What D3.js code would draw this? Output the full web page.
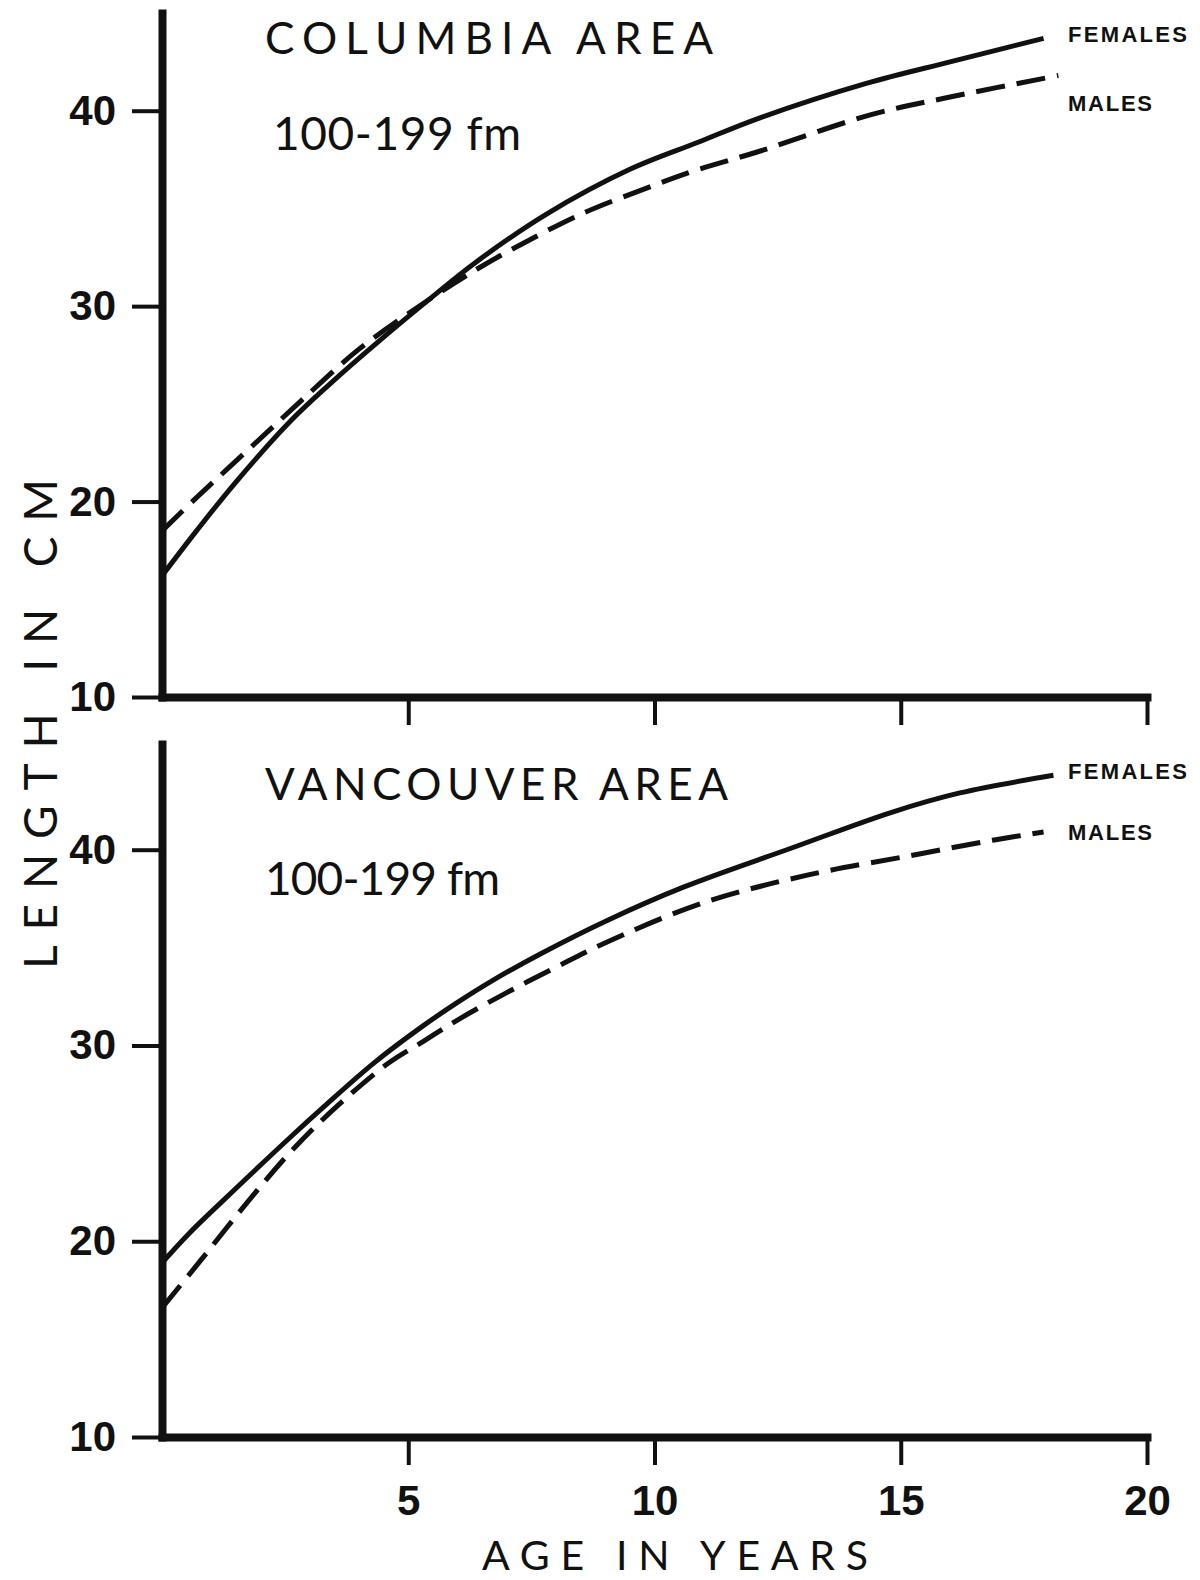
<!DOCTYPE html>
<html>
<head>
<meta charset="utf-8">
<script src="https://cdn.jsdelivr.net/npm/d3@7"></script>
<style>
  body { margin: 0; background: #fff; }
  .axis path, .axis line { stroke: #111; }
  .axis text { fill: #111; font-family: "Liberation Sans", Arial, sans-serif; font-weight: 700; }
  .title { font-family: Lato, "Open Sans", sans-serif; font-weight: 400; fill: #111; }
  .sex { font-family: "Liberation Sans", Arial, sans-serif; font-weight: 700; fill: #111; }
</style>
</head>
<body>
<script>
// growth curves, [age in years, length in cm]
var columbiaFemales = [[0,16.2],[0.7,18.5],[1.5,21.0],[2.6,24.1],[3.4,26.0],[4.4,28.2],[5.5,30.5],[6.4,32.3],[7.8,34.7],[9.5,37.0],[10.9,38.4],[12.1,39.6],[14.3,41.4],[16,42.5],[17.9,43.7]];
var columbiaMales   = [[0,18.5],[0.7,20.2],[1.9,23.0],[2.8,25.1],[4.0,27.8],[5.4,30.3],[6.4,31.9],[7.1,32.9],[8.5,34.7],[9.8,36.0],[10.9,37.0],[12.1,37.9],[14.4,39.8],[16,40.7],[18.2,41.8]];
var vancouverFemales = [[0,18.9],[0.55,20.4],[1.25,22.1],[2.6,25.3],[3.3,26.9],[4.3,29.1],[5.3,31.0],[6.0,32.2],[6.7,33.3],[7.7,34.7],[9.05,36.4],[10.6,38.1],[12.8,40.1],[14.8,41.9],[16.2,42.9],[18.1,43.8]];
var vancouverMales   = [[0,16.6],[0.65,18.6],[1.9,22.5],[2.7,24.8],[3.6,27.0],[4.6,29.1],[5.3,30.2],[6.0,31.3],[7.0,32.7],[8.0,34.0],[9.05,35.3],[11.0,37.3],[13.1,38.7],[15.2,39.7],[16.9,40.5],[17.9,40.9]];

var ageTicks = [5, 10, 15, 20];
var lengthTicks = [10, 20, 30, 40];
var areaNames = ["COLUMBIA AREA", "VANCOUVER AREA"];
var depthLabel = "100-199 fm";

var width = 1200,
    height = 1580;

var svg = d3.select("body").append("svg")
    .attr("width", width)
    .attr("height", height);

var x = d3.scaleLinear().domain([0, 20]).range([162, 1147]);

// one panel per area, both share the x scale
var panels = [
  { area: areaNames[0], females: columbiaFemales, males: columbiaMales,
    y: d3.scaleLinear().domain([10, 45]).range([697, 13]),
    titleY: 54, titleW: 448, depthX: 273, depthY: 150, depthW: 248,
    femDy: -4, malDy: 28, labels: false },
  { area: areaNames[1], females: vancouverFemales, males: vancouverMales,
    y: d3.scaleLinear().domain([10, 45.4]).range([1437, 744]),
    titleY: 800, titleW: 463, depthX: 265, depthY: 895, depthW: 235,
    femDy: -4, malDy: 0, labels: true }
];

panels.forEach(function(p) {
  var g = svg.append("g");

  var line = d3.line()
      .curve(d3.curveCatmullRom.alpha(0.5))
      .x(function(d) { return x(d[0]); })
      .y(function(d) { return p.y(d[1]); });

  // y axis
  var yAxis = g.append("g")
      .attr("class", "axis")
      .attr("transform", "translate(" + x(0) + ",0)")
      .call(d3.axisLeft(p.y).tickValues(lengthTicks).tickSize(30).tickSizeOuter(0).tickPadding(16));
  yAxis.select(".domain").attr("stroke-width", 8).attr("stroke-linecap", "square");
  yAxis.selectAll(".tick line").attr("stroke-width", 4);
  yAxis.selectAll(".tick text").attr("font-size", 42);

  // x axis
  var xAxis = g.append("g")
      .attr("class", "axis")
      .attr("transform", "translate(0," + p.y(10) + ")")
      .call(d3.axisBottom(x).tickValues(ageTicks).tickSize(28).tickSizeOuter(0).tickPadding(20)
        .tickFormat(p.labels ? d3.format("d") : function() { return ""; }));
  xAxis.select(".domain").attr("stroke-width", 8).attr("stroke-linecap", "square");
  xAxis.selectAll(".tick line").attr("stroke-width", 4);
  xAxis.selectAll(".tick text").attr("font-size", 42);

  // curves
  g.append("path")
      .datum(p.females)
      .attr("fill", "none")
      .attr("stroke", "#111")
      .attr("stroke-width", 5)
      .attr("d", line);

  g.append("path")
      .datum(p.males)
      .attr("fill", "none")
      .attr("stroke", "#111")
      .attr("stroke-width", 5)
      .attr("stroke-dasharray", "29,12")
      .attr("d", line);

  // FEMALES / MALES tags at the end of each curve
  var fEnd = p.females[p.females.length - 1],
      mEnd = p.males[p.males.length - 1];
  g.append("text")
      .attr("class", "sex")
      .attr("x", 1068)
      .attr("y", p.y(fEnd[1]) + p.femDy)
      .attr("dy", "0.36em")
      .attr("font-size", 22)
      .attr("textLength", 119)
      .attr("lengthAdjust", "spacing")
      .text("FEMALES");
  g.append("text")
      .attr("class", "sex")
      .attr("x", 1068)
      .attr("y", p.y(mEnd[1]) + p.malDy)
      .attr("dy", "0.36em")
      .attr("font-size", 22)
      .attr("textLength", 84)
      .attr("lengthAdjust", "spacing")
      .text("MALES");

  // panel titles
  g.append("text")
      .attr("class", "title")
      .attr("x", 265)
      .attr("y", p.titleY)
      .attr("font-size", 44)
      .attr("textLength", p.titleW)
      .attr("lengthAdjust", "spacing")
      .text(p.area);
  g.append("text")
      .attr("class", "title")
      .attr("x", p.depthX)
      .attr("y", p.depthY)
      .attr("font-size", 46)
      .attr("textLength", p.depthW)
      .attr("lengthAdjust", "spacing")
      .text(depthLabel);
});

// axis titles
svg.append("text")
    .attr("class", "title")
    .attr("transform", "translate(40,724) rotate(-90)")
    .attr("text-anchor", "middle")
    .attr("dy", "0.36em")
    .attr("font-size", 46)
    .attr("textLength", 490)
    .attr("lengthAdjust", "spacing")
    .text("LENGTH IN CM");

svg.append("text")
    .attr("class", "title")
    .attr("x", 482)
    .attr("y", 1570)
    .attr("font-size", 41)
    .attr("textLength", 386)
    .attr("lengthAdjust", "spacing")
    .text("AGE IN YEARS");
</script>
</body>
</html>
